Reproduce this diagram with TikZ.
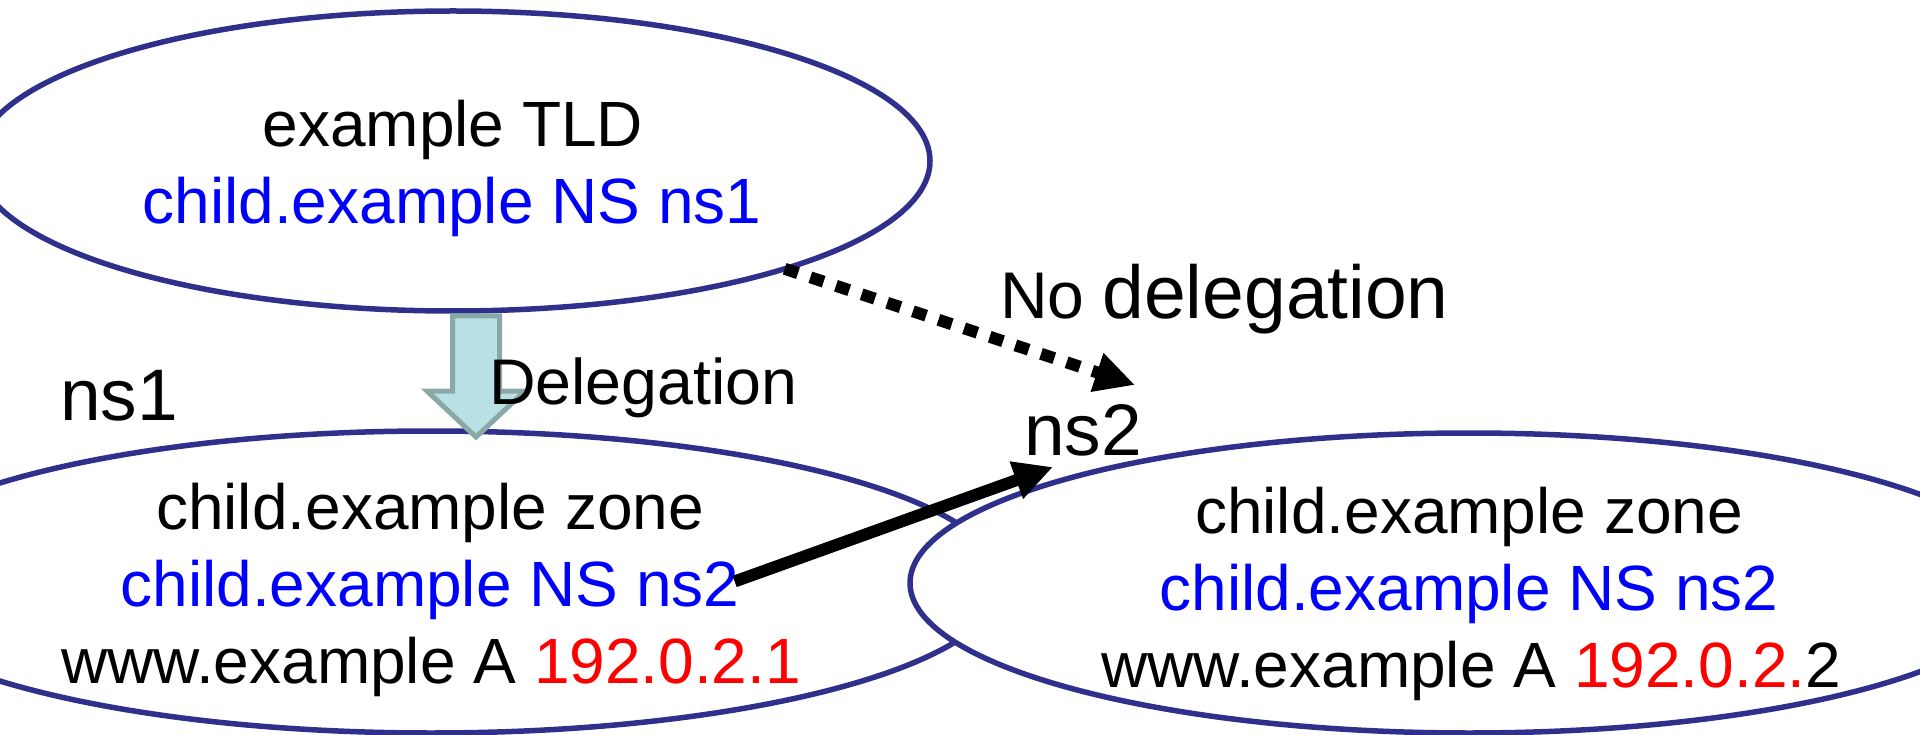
\documentclass[tikz,border=0pt]{standalone}
\usepackage{fontspec}
\setmainfont{Liberation Sans}
\usetikzlibrary{arrows.meta,shapes.geometric}
\definecolor{zoneline}{RGB}{46,48,140}
\definecolor{delfill}{RGB}{185,224,228}
\definecolor{deldraw}{RGB}{139,168,168}
\definecolor{nsblue}{RGB}{0,0,255}
\definecolor{ipred}{RGB}{255,0,0}
\begin{document}
\begin{tikzpicture}[x=1pt,y=-1pt,
  zone/.style={ellipse, draw=zoneline, line width=5.5pt, inner sep=0pt, outer sep=0pt},
  txt/.style={inner sep=0pt, anchor=base, font=\fontsize{64}{77}\selectfont},
  lbl/.style={inner sep=0pt, anchor=base west, font=\fontsize{73}{88}\selectfont},
  delegarrow/.style={fill=delfill, draw=deldraw, line width=5pt, line join=miter},
  nodeleg/.style={line width=12pt, dash pattern=on 14pt off 13pt,
    -{Triangle[length=40pt,width=38pt]}},
  refarrow/.style={line width=12pt, -{Triangle[length=39pt,width=37pt]}}
]
\useasboundingbox (0,0) rectangle (1920,735);
\clip (0,0) rectangle (1920,735);

% zones
\node[zone, minimum width=954pt, minimum height=300pt] (tld) at (453,161) {};
\node[zone, minimum width=1142pt, minimum height=302pt] (child1) at (431,582) {};
\node[zone, fill=white, minimum width=1118pt, minimum height=300pt] (child2) at (1469,583) {};

% texts
\node[txt] (t1) at (453,147) {example TLD};
\node[txt, text=nsblue] (t2) at (452,224) {child.example NS ns1};

\node[txt] (l1) at (430,529) {child.example zone};
\node[txt, text=nsblue] (l2) at (430,606) {child.example NS ns2};
\node[txt] (l3) at (431,683) {www.example A \textcolor{ipred}{192.0.2.1}};

\node[txt] (r1) at (1469,533) {child.example zone};
\node[txt, text=nsblue] (r2) at (1469,610) {child.example NS ns2};
\node[txt] (r3) at (1471,687) {www.example A \textcolor{ipred}{192.0.2.}2};

% delegation block arrow
\draw[delegarrow] (452.5,316) -- (499.5,316) -- (499.5,391) -- (525,391)
  -- (476,437) -- (427,391) -- (452.5,391) -- cycle;
\node[inner sep=0pt, anchor=base west, font=\fontsize{64.5}{77}\selectfont] (deleg) at (489,404) {Delegation};

% labels
\node[lbl] (ns1) at (60,420) {ns1};
\node[lbl] (ns2) at (1024,455) {ns2};
\node[inner sep=0pt, anchor=base west] (nodel) at (1000,319)
  {{\fontsize{66}{79}\selectfont No\hspace{18pt}}{\fontsize{75}{90}\selectfont delegation}};

% connectors
\coordinate (ns2top) at (1135,385);
\coordinate (ns2in) at (1053,467);
\draw[nodeleg] (tld.-18) -- (ns2top);
\draw[refarrow] ([shift={(-5,-8)}]l2.east) -- (ns2in);
\end{tikzpicture}
\end{document}
